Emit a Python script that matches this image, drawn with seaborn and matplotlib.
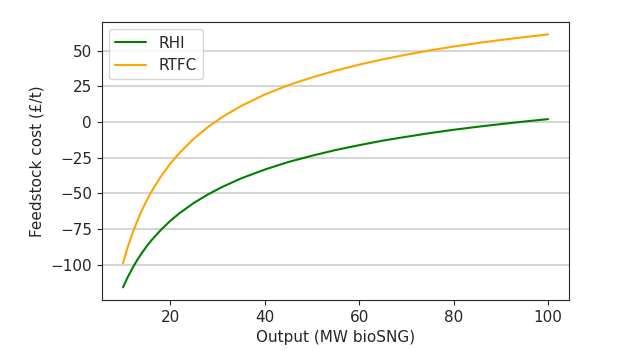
import pandas as pd
import numpy as np
import matplotlib
matplotlib.use("Agg")
import matplotlib.pyplot as plt
import seaborn as sns

# values
output_mw = [10, 11, 12, 13, 14, 15, 16, 18, 20, 22, 25, 28, 31, 35, 40,
             45, 50, 55, 60, 65, 70, 75, 80, 85, 90, 95, 100]
rhi = [-116.0, -108.9, -102.6, -96.9, -91.9, -87.3, -83.1, -75.8, -69.4,
       -63.9, -56.8, -50.8, -45.6, -39.6, -33.4, -28.1, -23.7, -19.7, -16.3,
       -13.1, -10.4, -7.8, -5.5, -3.4, -1.5, 0.3, 2.0]
rtfc = [-99.0, -87.8, -78.2, -69.6, -62.0, -55.2, -49.0, -38.4, -29.3,
        -21.6, -11.7, -3.5, 3.4, 11.2, 19.2, 25.8, 31.2, 36.0, 40.2,
        43.9, 47.2, 50.2, 52.9, 55.3, 57.5, 59.5, 61.4]
series_names = ["RHI", "RTFC"]
colours = {"RHI": "green", "RTFC": "orange"}

df = pd.DataFrame({
    "output": output_mw * 2,
    "cost": rhi + rtfc,
    "scheme": [series_names[0]] * len(rhi) + [series_names[1]] * len(rtfc),
})

sns.set_style("ticks")
plt.rcParams["font.family"] = ["DejaVu Sans"]
plt.rcParams["font.size"] = 10

fig = plt.figure(figsize=(6.18, 3.51), dpi=100)
ax = fig.add_axes([0.1646, 0.1453, 0.7566, 0.7927])

sns.lineplot(data=df, x="output", y="cost", hue="scheme", palette=colours,
             linewidth=1.5, ax=ax)

ax.yaxis.grid(True, color="#d6d6d6", linewidth=1.5)
ax.set_axisbelow(True)
ax.set_yticks([-100, -75, -50, -25, 0, 25, 50])
ax.set_xticks([20, 40, 60, 80, 100])
ax.set_xlabel("Output (MW bioSNG)", fontsize=11)
ax.set_ylabel("Feedstock cost (£/t)", fontsize=11)
ax.tick_params(labelsize=11)

handles, labels = ax.get_legend_handles_labels()
ax.legend(handles, labels, loc="upper left", fontsize=11)

fig.savefig("out.png", dpi=100)
